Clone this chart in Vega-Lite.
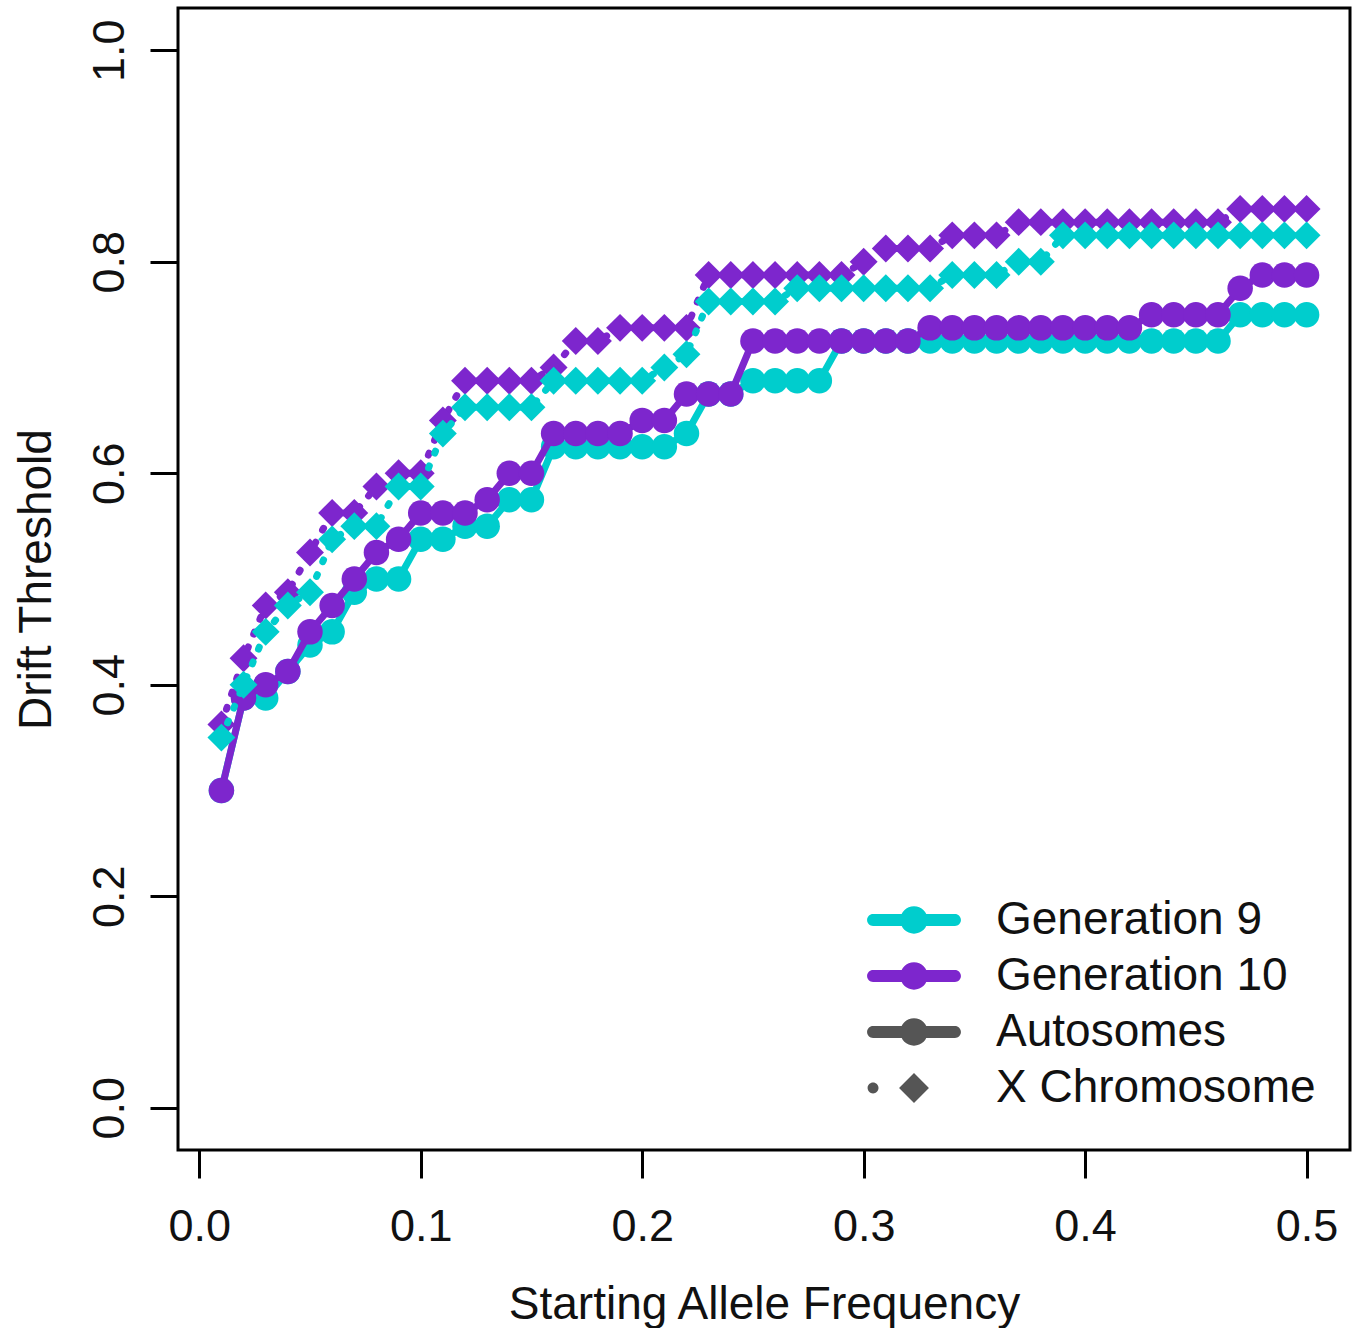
{
  "$schema": "https://vega.github.io/schema/vega-lite/v6.json",
  "width": 1172,
  "height": 1142,
  "autosize": {"type": "none"},
  "padding": {"left": 178, "top": 8, "right": 10, "bottom": 178},
  "background": "white",
  "config": {
    "font": "Liberation Sans",
    "view": {"stroke": "black", "strokeWidth": 3},
    "axis": {"grid": false, "domain": false, "tickColor": "black", "tickWidth": 3, "tickSize": 28, "labelFontSize": 45, "labelColor": "#111", "titleFontSize": 46, "titleFontWeight": "normal", "titleColor": "#111", "labelFlush": false, "labelOverlap": false},
    "legend": {"labelFontSize": 46, "labelColor": "#111", "labelLimit": 0, "symbolSize": 676, "padding": 0, "rowPadding": 10, "labelOffset": 59, "title": null}
  },
  "data": {"values": [
    {"x":0.01,"y":0.3,"gen":"Generation 9","chrom":"Autosomes"},
    {"x":0.02,"y":0.3875,"gen":"Generation 9","chrom":"Autosomes"},
    {"x":0.03,"y":0.3875,"gen":"Generation 9","chrom":"Autosomes"},
    {"x":0.04,"y":0.4125,"gen":"Generation 9","chrom":"Autosomes"},
    {"x":0.05,"y":0.4375,"gen":"Generation 9","chrom":"Autosomes"},
    {"x":0.06,"y":0.45,"gen":"Generation 9","chrom":"Autosomes"},
    {"x":0.07,"y":0.4875,"gen":"Generation 9","chrom":"Autosomes"},
    {"x":0.08,"y":0.5,"gen":"Generation 9","chrom":"Autosomes"},
    {"x":0.09,"y":0.5,"gen":"Generation 9","chrom":"Autosomes"},
    {"x":0.10,"y":0.5375,"gen":"Generation 9","chrom":"Autosomes"},
    {"x":0.11,"y":0.5375,"gen":"Generation 9","chrom":"Autosomes"},
    {"x":0.12,"y":0.55,"gen":"Generation 9","chrom":"Autosomes"},
    {"x":0.13,"y":0.55,"gen":"Generation 9","chrom":"Autosomes"},
    {"x":0.14,"y":0.575,"gen":"Generation 9","chrom":"Autosomes"},
    {"x":0.15,"y":0.575,"gen":"Generation 9","chrom":"Autosomes"},
    {"x":0.16,"y":0.625,"gen":"Generation 9","chrom":"Autosomes"},
    {"x":0.17,"y":0.625,"gen":"Generation 9","chrom":"Autosomes"},
    {"x":0.18,"y":0.625,"gen":"Generation 9","chrom":"Autosomes"},
    {"x":0.19,"y":0.625,"gen":"Generation 9","chrom":"Autosomes"},
    {"x":0.20,"y":0.625,"gen":"Generation 9","chrom":"Autosomes"},
    {"x":0.21,"y":0.625,"gen":"Generation 9","chrom":"Autosomes"},
    {"x":0.22,"y":0.6375,"gen":"Generation 9","chrom":"Autosomes"},
    {"x":0.23,"y":0.675,"gen":"Generation 9","chrom":"Autosomes"},
    {"x":0.24,"y":0.675,"gen":"Generation 9","chrom":"Autosomes"},
    {"x":0.25,"y":0.6875,"gen":"Generation 9","chrom":"Autosomes"},
    {"x":0.26,"y":0.6875,"gen":"Generation 9","chrom":"Autosomes"},
    {"x":0.27,"y":0.6875,"gen":"Generation 9","chrom":"Autosomes"},
    {"x":0.28,"y":0.6875,"gen":"Generation 9","chrom":"Autosomes"},
    {"x":0.29,"y":0.725,"gen":"Generation 9","chrom":"Autosomes"},
    {"x":0.30,"y":0.725,"gen":"Generation 9","chrom":"Autosomes"},
    {"x":0.31,"y":0.725,"gen":"Generation 9","chrom":"Autosomes"},
    {"x":0.32,"y":0.725,"gen":"Generation 9","chrom":"Autosomes"},
    {"x":0.33,"y":0.725,"gen":"Generation 9","chrom":"Autosomes"},
    {"x":0.34,"y":0.725,"gen":"Generation 9","chrom":"Autosomes"},
    {"x":0.35,"y":0.725,"gen":"Generation 9","chrom":"Autosomes"},
    {"x":0.36,"y":0.725,"gen":"Generation 9","chrom":"Autosomes"},
    {"x":0.37,"y":0.725,"gen":"Generation 9","chrom":"Autosomes"},
    {"x":0.38,"y":0.725,"gen":"Generation 9","chrom":"Autosomes"},
    {"x":0.39,"y":0.725,"gen":"Generation 9","chrom":"Autosomes"},
    {"x":0.40,"y":0.725,"gen":"Generation 9","chrom":"Autosomes"},
    {"x":0.41,"y":0.725,"gen":"Generation 9","chrom":"Autosomes"},
    {"x":0.42,"y":0.725,"gen":"Generation 9","chrom":"Autosomes"},
    {"x":0.43,"y":0.725,"gen":"Generation 9","chrom":"Autosomes"},
    {"x":0.44,"y":0.725,"gen":"Generation 9","chrom":"Autosomes"},
    {"x":0.45,"y":0.725,"gen":"Generation 9","chrom":"Autosomes"},
    {"x":0.46,"y":0.725,"gen":"Generation 9","chrom":"Autosomes"},
    {"x":0.47,"y":0.75,"gen":"Generation 9","chrom":"Autosomes"},
    {"x":0.48,"y":0.75,"gen":"Generation 9","chrom":"Autosomes"},
    {"x":0.49,"y":0.75,"gen":"Generation 9","chrom":"Autosomes"},
    {"x":0.50,"y":0.75,"gen":"Generation 9","chrom":"Autosomes"},

    {"x":0.01,"y":0.3,"gen":"Generation 10","chrom":"Autosomes"},
    {"x":0.02,"y":0.3875,"gen":"Generation 10","chrom":"Autosomes"},
    {"x":0.03,"y":0.4,"gen":"Generation 10","chrom":"Autosomes"},
    {"x":0.04,"y":0.4125,"gen":"Generation 10","chrom":"Autosomes"},
    {"x":0.05,"y":0.45,"gen":"Generation 10","chrom":"Autosomes"},
    {"x":0.06,"y":0.475,"gen":"Generation 10","chrom":"Autosomes"},
    {"x":0.07,"y":0.5,"gen":"Generation 10","chrom":"Autosomes"},
    {"x":0.08,"y":0.525,"gen":"Generation 10","chrom":"Autosomes"},
    {"x":0.09,"y":0.5375,"gen":"Generation 10","chrom":"Autosomes"},
    {"x":0.10,"y":0.5625,"gen":"Generation 10","chrom":"Autosomes"},
    {"x":0.11,"y":0.5625,"gen":"Generation 10","chrom":"Autosomes"},
    {"x":0.12,"y":0.5625,"gen":"Generation 10","chrom":"Autosomes"},
    {"x":0.13,"y":0.575,"gen":"Generation 10","chrom":"Autosomes"},
    {"x":0.14,"y":0.6,"gen":"Generation 10","chrom":"Autosomes"},
    {"x":0.15,"y":0.6,"gen":"Generation 10","chrom":"Autosomes"},
    {"x":0.16,"y":0.6375,"gen":"Generation 10","chrom":"Autosomes"},
    {"x":0.17,"y":0.6375,"gen":"Generation 10","chrom":"Autosomes"},
    {"x":0.18,"y":0.6375,"gen":"Generation 10","chrom":"Autosomes"},
    {"x":0.19,"y":0.6375,"gen":"Generation 10","chrom":"Autosomes"},
    {"x":0.20,"y":0.65,"gen":"Generation 10","chrom":"Autosomes"},
    {"x":0.21,"y":0.65,"gen":"Generation 10","chrom":"Autosomes"},
    {"x":0.22,"y":0.675,"gen":"Generation 10","chrom":"Autosomes"},
    {"x":0.23,"y":0.675,"gen":"Generation 10","chrom":"Autosomes"},
    {"x":0.24,"y":0.675,"gen":"Generation 10","chrom":"Autosomes"},
    {"x":0.25,"y":0.725,"gen":"Generation 10","chrom":"Autosomes"},
    {"x":0.26,"y":0.725,"gen":"Generation 10","chrom":"Autosomes"},
    {"x":0.27,"y":0.725,"gen":"Generation 10","chrom":"Autosomes"},
    {"x":0.28,"y":0.725,"gen":"Generation 10","chrom":"Autosomes"},
    {"x":0.29,"y":0.725,"gen":"Generation 10","chrom":"Autosomes"},
    {"x":0.30,"y":0.725,"gen":"Generation 10","chrom":"Autosomes"},
    {"x":0.31,"y":0.725,"gen":"Generation 10","chrom":"Autosomes"},
    {"x":0.32,"y":0.725,"gen":"Generation 10","chrom":"Autosomes"},
    {"x":0.33,"y":0.7375,"gen":"Generation 10","chrom":"Autosomes"},
    {"x":0.34,"y":0.7375,"gen":"Generation 10","chrom":"Autosomes"},
    {"x":0.35,"y":0.7375,"gen":"Generation 10","chrom":"Autosomes"},
    {"x":0.36,"y":0.7375,"gen":"Generation 10","chrom":"Autosomes"},
    {"x":0.37,"y":0.7375,"gen":"Generation 10","chrom":"Autosomes"},
    {"x":0.38,"y":0.7375,"gen":"Generation 10","chrom":"Autosomes"},
    {"x":0.39,"y":0.7375,"gen":"Generation 10","chrom":"Autosomes"},
    {"x":0.40,"y":0.7375,"gen":"Generation 10","chrom":"Autosomes"},
    {"x":0.41,"y":0.7375,"gen":"Generation 10","chrom":"Autosomes"},
    {"x":0.42,"y":0.7375,"gen":"Generation 10","chrom":"Autosomes"},
    {"x":0.43,"y":0.75,"gen":"Generation 10","chrom":"Autosomes"},
    {"x":0.44,"y":0.75,"gen":"Generation 10","chrom":"Autosomes"},
    {"x":0.45,"y":0.75,"gen":"Generation 10","chrom":"Autosomes"},
    {"x":0.46,"y":0.75,"gen":"Generation 10","chrom":"Autosomes"},
    {"x":0.47,"y":0.775,"gen":"Generation 10","chrom":"Autosomes"},
    {"x":0.48,"y":0.7875,"gen":"Generation 10","chrom":"Autosomes"},
    {"x":0.49,"y":0.7875,"gen":"Generation 10","chrom":"Autosomes"},
    {"x":0.50,"y":0.7875,"gen":"Generation 10","chrom":"Autosomes"},

    {"x":0.01,"y":0.35,"gen":"Generation 9","chrom":"X Chromosome"},
    {"x":0.02,"y":0.4,"gen":"Generation 9","chrom":"X Chromosome"},
    {"x":0.03,"y":0.45,"gen":"Generation 9","chrom":"X Chromosome"},
    {"x":0.04,"y":0.475,"gen":"Generation 9","chrom":"X Chromosome"},
    {"x":0.05,"y":0.4875,"gen":"Generation 9","chrom":"X Chromosome"},
    {"x":0.06,"y":0.5375,"gen":"Generation 9","chrom":"X Chromosome"},
    {"x":0.07,"y":0.55,"gen":"Generation 9","chrom":"X Chromosome"},
    {"x":0.08,"y":0.55,"gen":"Generation 9","chrom":"X Chromosome"},
    {"x":0.09,"y":0.5875,"gen":"Generation 9","chrom":"X Chromosome"},
    {"x":0.10,"y":0.5875,"gen":"Generation 9","chrom":"X Chromosome"},
    {"x":0.11,"y":0.6375,"gen":"Generation 9","chrom":"X Chromosome"},
    {"x":0.12,"y":0.6625,"gen":"Generation 9","chrom":"X Chromosome"},
    {"x":0.13,"y":0.6625,"gen":"Generation 9","chrom":"X Chromosome"},
    {"x":0.14,"y":0.6625,"gen":"Generation 9","chrom":"X Chromosome"},
    {"x":0.15,"y":0.6625,"gen":"Generation 9","chrom":"X Chromosome"},
    {"x":0.16,"y":0.6875,"gen":"Generation 9","chrom":"X Chromosome"},
    {"x":0.17,"y":0.6875,"gen":"Generation 9","chrom":"X Chromosome"},
    {"x":0.18,"y":0.6875,"gen":"Generation 9","chrom":"X Chromosome"},
    {"x":0.19,"y":0.6875,"gen":"Generation 9","chrom":"X Chromosome"},
    {"x":0.20,"y":0.6875,"gen":"Generation 9","chrom":"X Chromosome"},
    {"x":0.21,"y":0.7,"gen":"Generation 9","chrom":"X Chromosome"},
    {"x":0.22,"y":0.7125,"gen":"Generation 9","chrom":"X Chromosome"},
    {"x":0.23,"y":0.7625,"gen":"Generation 9","chrom":"X Chromosome"},
    {"x":0.24,"y":0.7625,"gen":"Generation 9","chrom":"X Chromosome"},
    {"x":0.25,"y":0.7625,"gen":"Generation 9","chrom":"X Chromosome"},
    {"x":0.26,"y":0.7625,"gen":"Generation 9","chrom":"X Chromosome"},
    {"x":0.27,"y":0.775,"gen":"Generation 9","chrom":"X Chromosome"},
    {"x":0.28,"y":0.775,"gen":"Generation 9","chrom":"X Chromosome"},
    {"x":0.29,"y":0.775,"gen":"Generation 9","chrom":"X Chromosome"},
    {"x":0.30,"y":0.775,"gen":"Generation 9","chrom":"X Chromosome"},
    {"x":0.31,"y":0.775,"gen":"Generation 9","chrom":"X Chromosome"},
    {"x":0.32,"y":0.775,"gen":"Generation 9","chrom":"X Chromosome"},
    {"x":0.33,"y":0.775,"gen":"Generation 9","chrom":"X Chromosome"},
    {"x":0.34,"y":0.7875,"gen":"Generation 9","chrom":"X Chromosome"},
    {"x":0.35,"y":0.7875,"gen":"Generation 9","chrom":"X Chromosome"},
    {"x":0.36,"y":0.7875,"gen":"Generation 9","chrom":"X Chromosome"},
    {"x":0.37,"y":0.8,"gen":"Generation 9","chrom":"X Chromosome"},
    {"x":0.38,"y":0.8,"gen":"Generation 9","chrom":"X Chromosome"},
    {"x":0.39,"y":0.825,"gen":"Generation 9","chrom":"X Chromosome"},
    {"x":0.40,"y":0.825,"gen":"Generation 9","chrom":"X Chromosome"},
    {"x":0.41,"y":0.825,"gen":"Generation 9","chrom":"X Chromosome"},
    {"x":0.42,"y":0.825,"gen":"Generation 9","chrom":"X Chromosome"},
    {"x":0.43,"y":0.825,"gen":"Generation 9","chrom":"X Chromosome"},
    {"x":0.44,"y":0.825,"gen":"Generation 9","chrom":"X Chromosome"},
    {"x":0.45,"y":0.825,"gen":"Generation 9","chrom":"X Chromosome"},
    {"x":0.46,"y":0.825,"gen":"Generation 9","chrom":"X Chromosome"},
    {"x":0.47,"y":0.825,"gen":"Generation 9","chrom":"X Chromosome"},
    {"x":0.48,"y":0.825,"gen":"Generation 9","chrom":"X Chromosome"},
    {"x":0.49,"y":0.825,"gen":"Generation 9","chrom":"X Chromosome"},
    {"x":0.50,"y":0.825,"gen":"Generation 9","chrom":"X Chromosome"},

    {"x":0.01,"y":0.3625,"gen":"Generation 10","chrom":"X Chromosome"},
    {"x":0.02,"y":0.425,"gen":"Generation 10","chrom":"X Chromosome"},
    {"x":0.03,"y":0.475,"gen":"Generation 10","chrom":"X Chromosome"},
    {"x":0.04,"y":0.4875,"gen":"Generation 10","chrom":"X Chromosome"},
    {"x":0.05,"y":0.525,"gen":"Generation 10","chrom":"X Chromosome"},
    {"x":0.06,"y":0.5625,"gen":"Generation 10","chrom":"X Chromosome"},
    {"x":0.07,"y":0.5625,"gen":"Generation 10","chrom":"X Chromosome"},
    {"x":0.08,"y":0.5875,"gen":"Generation 10","chrom":"X Chromosome"},
    {"x":0.09,"y":0.6,"gen":"Generation 10","chrom":"X Chromosome"},
    {"x":0.10,"y":0.6,"gen":"Generation 10","chrom":"X Chromosome"},
    {"x":0.11,"y":0.65,"gen":"Generation 10","chrom":"X Chromosome"},
    {"x":0.12,"y":0.6875,"gen":"Generation 10","chrom":"X Chromosome"},
    {"x":0.13,"y":0.6875,"gen":"Generation 10","chrom":"X Chromosome"},
    {"x":0.14,"y":0.6875,"gen":"Generation 10","chrom":"X Chromosome"},
    {"x":0.15,"y":0.6875,"gen":"Generation 10","chrom":"X Chromosome"},
    {"x":0.16,"y":0.7,"gen":"Generation 10","chrom":"X Chromosome"},
    {"x":0.17,"y":0.725,"gen":"Generation 10","chrom":"X Chromosome"},
    {"x":0.18,"y":0.725,"gen":"Generation 10","chrom":"X Chromosome"},
    {"x":0.19,"y":0.7375,"gen":"Generation 10","chrom":"X Chromosome"},
    {"x":0.20,"y":0.7375,"gen":"Generation 10","chrom":"X Chromosome"},
    {"x":0.21,"y":0.7375,"gen":"Generation 10","chrom":"X Chromosome"},
    {"x":0.22,"y":0.7375,"gen":"Generation 10","chrom":"X Chromosome"},
    {"x":0.23,"y":0.7875,"gen":"Generation 10","chrom":"X Chromosome"},
    {"x":0.24,"y":0.7875,"gen":"Generation 10","chrom":"X Chromosome"},
    {"x":0.25,"y":0.7875,"gen":"Generation 10","chrom":"X Chromosome"},
    {"x":0.26,"y":0.7875,"gen":"Generation 10","chrom":"X Chromosome"},
    {"x":0.27,"y":0.7875,"gen":"Generation 10","chrom":"X Chromosome"},
    {"x":0.28,"y":0.7875,"gen":"Generation 10","chrom":"X Chromosome"},
    {"x":0.29,"y":0.7875,"gen":"Generation 10","chrom":"X Chromosome"},
    {"x":0.30,"y":0.8,"gen":"Generation 10","chrom":"X Chromosome"},
    {"x":0.31,"y":0.8125,"gen":"Generation 10","chrom":"X Chromosome"},
    {"x":0.32,"y":0.8125,"gen":"Generation 10","chrom":"X Chromosome"},
    {"x":0.33,"y":0.8125,"gen":"Generation 10","chrom":"X Chromosome"},
    {"x":0.34,"y":0.825,"gen":"Generation 10","chrom":"X Chromosome"},
    {"x":0.35,"y":0.825,"gen":"Generation 10","chrom":"X Chromosome"},
    {"x":0.36,"y":0.825,"gen":"Generation 10","chrom":"X Chromosome"},
    {"x":0.37,"y":0.8375,"gen":"Generation 10","chrom":"X Chromosome"},
    {"x":0.38,"y":0.8375,"gen":"Generation 10","chrom":"X Chromosome"},
    {"x":0.39,"y":0.8375,"gen":"Generation 10","chrom":"X Chromosome"},
    {"x":0.40,"y":0.8375,"gen":"Generation 10","chrom":"X Chromosome"},
    {"x":0.41,"y":0.8375,"gen":"Generation 10","chrom":"X Chromosome"},
    {"x":0.42,"y":0.8375,"gen":"Generation 10","chrom":"X Chromosome"},
    {"x":0.43,"y":0.8375,"gen":"Generation 10","chrom":"X Chromosome"},
    {"x":0.44,"y":0.8375,"gen":"Generation 10","chrom":"X Chromosome"},
    {"x":0.45,"y":0.8375,"gen":"Generation 10","chrom":"X Chromosome"},
    {"x":0.46,"y":0.8375,"gen":"Generation 10","chrom":"X Chromosome"},
    {"x":0.47,"y":0.85,"gen":"Generation 10","chrom":"X Chromosome"},
    {"x":0.48,"y":0.85,"gen":"Generation 10","chrom":"X Chromosome"},
    {"x":0.49,"y":0.85,"gen":"Generation 10","chrom":"X Chromosome"},
    {"x":0.50,"y":0.85,"gen":"Generation 10","chrom":"X Chromosome"}
  ]},
  "encoding": {
    "x": {"field": "x", "type": "quantitative", "scale": {"domain": [-0.0096, 0.5196], "nice": false, "zero": false},
      "axis": {"values": [0, 0.1, 0.2, 0.3, 0.4, 0.5], "format": ".1f", "labelPadding": 26, "title": "Starting Allele Frequency", "titleX": 586, "titleY": 168, "titleBaseline": "alphabetic", "titleAnchor": "middle", "titleAlign": "center"}},
    "y": {"field": "y", "type": "quantitative", "scale": {"domain": [-0.04, 1.04], "nice": false, "zero": false},
      "axis": {"values": [0, 0.2, 0.4, 0.6, 0.8, 1.0], "format": ".1f", "labelAngle": -90, "labelAlign": "center", "labelBaseline": "alphabetic", "labelPadding": 27, "title": "Drift Threshold", "titleAngle": -90, "titleX": -128, "titleY": 571, "titleBaseline": "alphabetic", "titleAlign": "center"}},
    "color": {"field": "gen", "type": "nominal",
      "scale": {"domain": ["Generation 9", "Generation 10"], "range": ["#00CDCD", "#7D26CD"]},
      "legend": {"orient": "none", "legendX": 713, "legendY": 889, "title": null, "labelLimit": 0,
        "symbolType": "M-3.15,-0.46L3.15,-0.46A0.46,0.46 0 0,1 3.15,0.46L-3.15,0.46A0.46,0.46 0 0,1 -3.15,-0.46Z M1.05,0A1.05,1.05 0 1,1 -1.05,0A1.05,1.05 0 1,1 1.05,0Z",
        "symbolStrokeWidth": 0, "symbolOpacity": 1,
        "encode": {"symbols": {"update": {"fill": {"scale": "color", "field": "value"}, "stroke": {"value": "transparent"}, "opacity": {"value": 1}}}}}}
  },
  "layer": [
    {"transform": [{"filter": "datum.gen === 'Generation 9' && datum.chrom === 'Autosomes'"}],
     "mark": {"type": "line", "strokeWidth": 7, "point": {"filled": true, "size": 650, "shape": "circle", "opacity": 1}}},
    {"transform": [{"filter": "datum.gen === 'Generation 10' && datum.chrom === 'Autosomes'"}],
     "mark": {"type": "line", "strokeWidth": 7, "point": {"filled": true, "size": 650, "shape": "circle", "opacity": 1}}},
    {"transform": [{"filter": "datum.gen === 'Generation 10' && datum.chrom === 'X Chromosome'"}],
     "mark": {"type": "line", "strokeWidth": 7, "strokeDash": [2, 14], "strokeCap": "round", "point": {"filled": true, "size": 780, "shape": "diamond", "opacity": 1}}},
    {"transform": [{"filter": "datum.gen === 'Generation 9' && datum.chrom === 'X Chromosome'"}],
     "mark": {"type": "line", "strokeWidth": 7, "strokeDash": [2, 14], "strokeCap": "round", "point": {"filled": true, "size": 780, "shape": "diamond", "opacity": 1}}},
    {"transform": [{"filter": "datum.x < 0"}],
     "mark": {"type": "point", "filled": true, "opacity": 1},
     "encoding": {
       "color": {"value": "#555555"},
       "shape": {"field": "chrom", "type": "nominal",
         "scale": {"domain": ["Autosomes", "X Chromosome"],
           "range": ["M-3.15,-0.46L3.15,-0.46A0.46,0.46 0 0,1 3.15,0.46L-3.15,0.46A0.46,0.46 0 0,1 -3.15,-0.46Z M1.05,0A1.05,1.05 0 1,1 -1.05,0A1.05,1.05 0 1,1 1.05,0Z",
                     "M-2.73,0A0.42,0.42 0 1,1 -3.57,0A0.42,0.42 0 1,1 -2.73,0Z M0,-1.15L1.15,0L0,1.15L-1.15,0Z"]},
         "legend": {"orient": "none", "legendX": 713, "legendY": 1001, "title": null, "labelLimit": 0, "symbolFillColor": "#555555", "symbolStrokeWidth": 0, "symbolOpacity": 1}}
     }}
  ]
}
